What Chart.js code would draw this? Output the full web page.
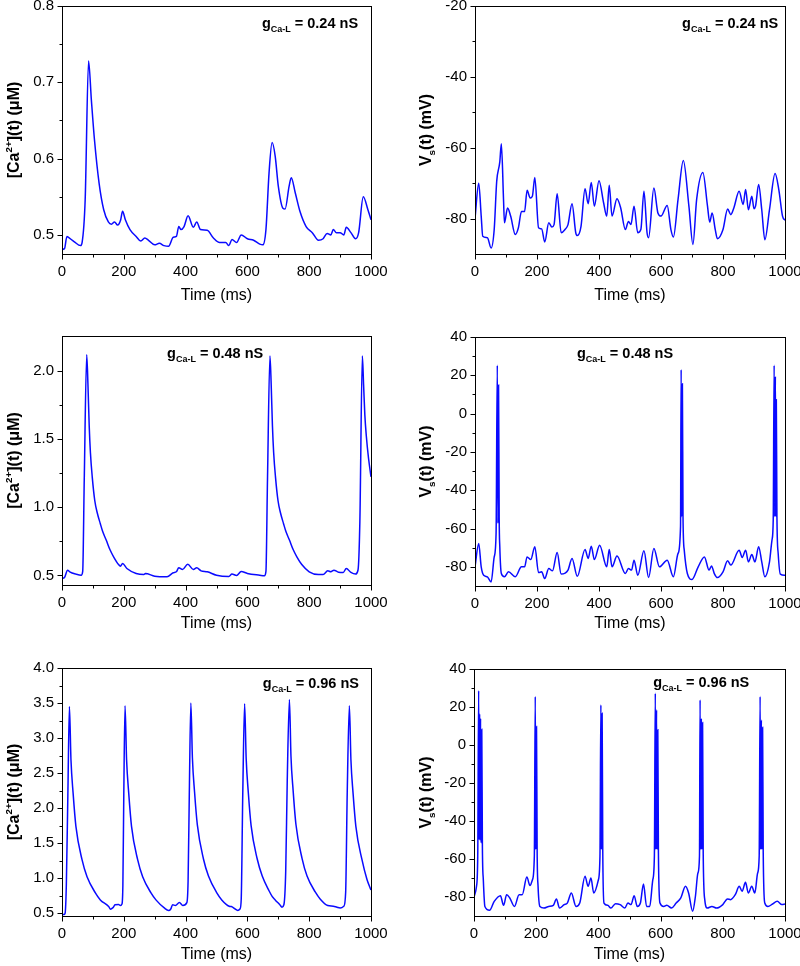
<!DOCTYPE html>
<html>
<head>
<meta charset="utf-8">
<title>Ca and Vs traces</title>
<script src="https://cdn.jsdelivr.net/npm/chart.js@4.4.0/dist/chart.umd.min.js"></script>
<style>
  body { margin: 0; background: #fff; width: 800px; height: 966px; position: relative; overflow: hidden; }
  canvas { position: absolute; }
</style>
</head>
<body>
<canvas id="p1"></canvas>
<canvas id="p2"></canvas>
<canvas id="p3"></canvas>
<canvas id="p4"></canvas>
<canvas id="p5"></canvas>
<canvas id="p6"></canvas>
<script>
// ---- data (time in ms, value) ----
const timeTicks = [0, 200, 400, 600, 800, 1000];
const timeMinor = [100, 300, 500, 700, 900];
const gValues = ['0.24', '0.48', '0.96'];

// [Ca2+](t), gCa-L = 0.24 nS
const caTrace024 = [[0,0.481],[8,0.482],[16,0.498],[20,0.497],[40,0.491],[60,0.486],[65,0.49],[75,0.546],[86,0.728],[95,0.677],
  [105,0.625],[120,0.568],[135,0.533],[150,0.517],[160,0.514],[170,0.517],[180,0.513],[190,0.52],[196,0.531],[205,0.52],
  [220,0.507],[240,0.498],[255,0.492],[268,0.496],[280,0.493],[300,0.487],[315,0.489],[330,0.486],[345,0.485],[360,0.497],
  [370,0.498],[378,0.511],[385,0.507],[395,0.511],[408,0.525],[425,0.51],[436,0.517],[448,0.507],[470,0.506],[490,0.496],
  [510,0.49],[530,0.49],[540,0.486],[550,0.494],[565,0.49],[580,0.5],[600,0.495],[620,0.493],[640,0.488],[650,0.487],
  [660,0.507],[670,0.581],[680,0.621],[690,0.603],[700,0.564],[715,0.535],[722,0.534],[735,0.564],[742,0.575],[755,0.555],
  [770,0.531],[790,0.511],[810,0.503],[830,0.493],[845,0.495],[858,0.502],[870,0.5],[878,0.507],[888,0.503],[900,0.503],
  [912,0.5],[920,0.51],[935,0.503],[950,0.495],[960,0.503],[975,0.55],[990,0.533],[1000,0.52]];

// Vs(t), gCa-L = 0.24 nS
const vTrace024 = [[0,-80],[12,-70],[20,-79.3],[25,-85],[40,-85.4],[52,-88.3],[62,-83],[70,-69.5],[80,-64],[85,-58.9],
  [92,-74.6],[95,-81.2],[105,-77],[115,-79.3],[130,-84.5],[140,-82.6],[150,-78],[160,-78],[168,-72],[178,-74.2],
  [185,-73.7],[193,-68.4],[205,-82.6],[215,-82.9],[225,-86.6],[238,-81.2],[248,-82.4],[255,-81.7],[265,-73],[278,-84],
  [290,-83.1],[300,-81.7],[313,-75.8],[325,-84],[330,-84.8],[342,-82.2],[355,-71.6],[365,-75.8],[375,-69.8],[385,-76.5],
  [400,-69.3],[415,-75.6],[425,-79.3],[433,-70.6],[442,-79.3],[458,-74.4],[470,-77],[485,-83.1],[495,-80.8],[503,-81.7],
  [513,-76.5],[525,-84],[535,-83.1],[545,-72.3],[555,-84],[560,-85.4],[577,-71.4],[590,-78.4],[600,-79.3],[620,-76.3],
  [632,-83.1],[640,-85.2],[655,-74.6],[672,-63.6],[690,-76.5],[703,-87.3],[715,-74.6],[735,-67],[750,-76.5],[757,-81],
  [765,-78.4],[775,-83.1],[782,-85.7],[800,-83.1],[815,-77.3],[825,-78.9],[835,-77],[852,-72.3],[865,-76],[873,-71.8],
  [882,-77.5],[893,-73.7],[900,-77.2],[905,-76.5],[915,-70.4],[925,-77.5],[935,-86],[950,-77.5],[968,-67.3],[980,-71.8],
  [992,-79.3],[1000,-80.5]];

// [Ca2+](t), gCa-L = 0.48 nS
const caTrace048 = [[0,0.478],[8,0.485],[18,0.539],[25,0.527],[45,0.51],[62,0.502],[67,0.53],[72,1.2],[80,2.12],[84,1.9],
  [88,1.6],[92,1.4],[98,1.22],[106,1.05],[114,0.96],[124,0.88],[132,0.82],[143,0.76],[155,0.69],[167,0.637],
  [183,0.58],[189,0.568],[196,0.588],[210,0.551],[240,0.515],
  [265,0.507],[270,0.515],[300,0.495],[340,0.49],[360,0.52],[370,0.527],[378,0.556],[390,0.544],[407,0.583],[425,0.544],
  [436,0.556],[450,0.534],[470,0.527],[500,0.502],[540,0.493],[550,0.51],[565,0.5],[580,0.529],[600,0.515],[640,0.502],
  [655,0.498],[660,0.53],[665,1.2],[673,2.11],[677,1.9],[681,1.6],[685,1.4],[691,1.22],[699,1.05],[707,0.96],
  [717,0.88],[725,0.82],[736,0.76],[748,0.69],[760,0.637],
  [776,0.58],[800,0.527],[830,0.507],[845,0.507],[860,0.534],[870,0.527],[880,0.539],[895,0.524],[910,0.522],[920,0.551],
  [935,0.522],[950,0.51],[958,0.54],[964,0.9],[972,2.11],[976,1.9],[980,1.68],[985,1.52],[992,1.36],[1000,1.224]];

// Vs(t), gCa-L = 0.48 nS
const vTrace048 = [[0,-80],[12,-67.8],[20,-80],[28,-84.4],[40,-85.2],[52,-87.9],[62,-74.8],[68,-62.6],[72,25.2],[74,-57.3],
  [76,15],[78,-53.8],[80,-69.5],[85,-83.5],[95,-85.2],[108,-82.6],[130,-85.2],[150,-80],[160,-80],[168,-74.8],
  [180,-76.2],[193,-69.5],[205,-83],[215,-82.6],[225,-86.1],[238,-80.9],[250,-82.1],[265,-72.5],[278,-83.8],[300,-81.7],
  [313,-75.6],[330,-84.9],[355,-70.9],[365,-75.6],[375,-69.2],[385,-76.2],[402,-68.7],[425,-80],[433,-70.9],[442,-80],
  [458,-74.4],[485,-83.5],[495,-80.9],[505,-81.7],[513,-76.5],[525,-84.4],[545,-71.6],[560,-85.6],[577,-70.4],[595,-80],
  [620,-76.5],[640,-85.2],[655,-73],[663,-59],[665,22.9],[667,-53.8],[669,15.6],[671,-53.8],[675,-71.3],[685,-83.5],
  [700,-86.6],[720,-80],[740,-74.8],[755,-81.7],[763,-79.5],[772,-83.5],[782,-85.6],[800,-82.6],[815,-76.8],[825,-79.1],
  [852,-71.3],[862,-75.1],[873,-71.3],[882,-77.4],[893,-73.6],[903,-77.4],[915,-69.5],[925,-77.4],[935,-85.2],[950,-77.4],
  [958,-66],[962,-55.6],[965,25.2],[967,-53.8],[969,19.4],[971,-53.8],[972,7.2],[974,-53.8],[978,-73],[985,-83.8],
  [1000,-84.4]];

// [Ca2+](t), gCa-L = 0.96 nS
const caTrace096 = [[0,0.48],[6,0.48],[10,0.5],[14,0.9],[19,2.2],[24,3.45],[29,2.69],[36,2.21],[45,1.74],[65,1.26],
  [81,1.02],[108,0.79],[124,0.69],[151,0.595],[157,0.557],[165,0.58],[172,0.62],[183,0.625],[189,0.61],[194,0.63],
  [197,0.9],[200,2.2],[204,3.46],[209,2.69],[216,2.21],[225,1.74],[245,1.26],[261,1.02],[288,0.79],[304,0.69],
  [331,0.575],[345,0.538],[352,0.56],[358,0.62],[367,0.61],[380,0.652],[391,0.61],[404,0.65],[408,0.95],[412,2.2],
  [417,3.5],[422,2.72],[429,2.23],[438,1.76],[458,1.27],[474,1.03],[501,0.79],[517,0.69],[541,0.6],[548,0.595],
  [569,0.54],[576,0.56],[580,0.7],[585,2.2],[591,3.49],[596,2.71],[603,2.22],[612,1.75],[632,1.27],[648,1.03],
  [670,0.82],[680,0.74],[690,0.69],[705,0.62],[712,0.586],[718,0.62],[724,1.1],[729,2.4],[736,3.55],[741,2.74],
  [748,2.25],[757,1.77],[777,1.28],[793,1.03],[820,0.8],[836,0.7],[860,0.61],[878,0.6],[890,0.585],[900,0.575],
  [912,0.6],[918,0.8],[923,2.2],[930,3.46],[935,2.69],[942,2.21],[951,1.74],[971,1.26],[987,0.98],[1000,0.83]];

// Vs(t), gCa-L = 0.96 nS
const vTrace096 = [[0,-80],[8,-74.4],[12,-58.6],[15,28.6],[17,-50],[18,16.3],[20,-50],[21,14],[23,-51.6],[25,8.3],
  [27,-53.4],[30,-71],[35,-85],[50,-87],[65,-82.3],[85,-79.3],[95,-84.4],[105,-78.8],[115,-80.5],[130,-85],
  [145,-78.8],[155,-78.8],[170,-69.5],[180,-74],[188,-70.9],[194,-58.6],[197,25.5],[199,-55],[201,9.7],[203,-55],
  [206,-74.4],[212,-85],[225,-85.8],[240,-85],[255,-84.4],[265,-81],[275,-85.8],[290,-84],[300,-83.2],[313,-77.9],
  [328,-85],[340,-83.2],[357,-69.1],[367,-74.4],[376,-70],[385,-77.9],[400,-70.9],[405,-58.6],[408,21.1],[410,-55],
  [412,16.7],[414,-55],[418,-83.2],[430,-84.4],[440,-85.8],[455,-83.5],[470,-84],[485,-85.8],[495,-83.2],[505,-84],
  [515,-79.3],[525,-85],[535,-83.2],[545,-73.2],[555,-85],[565,-85],[575,-70.9],[580,-58.6],[583,27.2],[585,-55],
  [587,18.5],[589,-55],[591,8],[593,-56.9],[598,-83.2],[610,-85],[620,-84.4],[635,-85.8],[650,-83.2],[665,-80.5],
  [680,-74.4],[690,-77.9],[703,-87.5],[712,-79.6],[720,-67.4],[725,-58.6],[727,23.7],[729,-55],[731,14],[733,-55],
  [735,11.8],[737,-56.9],[742,-81.4],[750,-85.8],[765,-85],[780,-85.8],[800,-84],[815,-81],[825,-81.4],[840,-78.8],
  [853,-74.4],[862,-77],[873,-72.3],[882,-77.9],[893,-74.4],[903,-77.9],[912,-67.4],[917,-58.6],[920,25.5],[922,-55],
  [924,13.2],[926,-55],[928,9.3],[930,-56.9],[935,-83.2],[945,-85],[960,-83.7],[975,-82.3],[990,-84],[1000,-83.7]];

// tick values
const caTicks024 = [0.5, 0.6, 0.7, 0.8];
const caMinor024 = [0.55, 0.65, 0.75];
const vTicks024 = [-80, -60, -40, -20];
const vMinor024 = [-70, -50, -30];
const caTicks048 = [0.5, 1.0, 1.5, 2.0];
const caMinor048 = [0.75, 1.25, 1.75];
const vTicksSpike = [-80, -60, -40, -20, 0, 20, 40];
const vMinorSpike = [-70, -50, -30, -10, 10, 30];
const caTicks096 = [0.5, 1.0, 1.5, 2.0, 2.5, 3.0, 3.5, 4.0];
const caMinor096 = [0.75, 1.25, 1.75, 2.25, 2.75, 3.25, 3.75];

// axis titles (text, kind) kind: '' normal, 'sup', 'sub'
const caTitle = [['[Ca', ''], ['2+', 'sup'], ['](t) (\u03bcM)', '']];
const vTitle = [['V', ''], ['s', 'sub'], ['(t) (mV)', '']];

const FONT = '"Liberation Sans", Arial, Helvetica, sans-serif';
const LINE = 'rgb(10,10,255)';

// ---- panels (layout) ----
const panels = [
  {id: 'p1', left: 0, top: 0, w: 400, h: 306, area: {l: 62, r: 371, t: 6, b: 254}, xTitleY: 296,
   pts: caTrace024, yMin: 0.475, yMax: 0.8, yMajor: caTicks024, yMinor: caMinor024, dec: 1,
   title: caTitle, titleX: 13, g: gValues[0], gAt: 647, gBelow: 17},
  {id: 'p2', left: 400, top: 0, w: 400, h: 306, area: {l: 75, r: 385, t: 6, b: 254}, xTitleY: 296,
   pts: vTrace024, yMin: -90, yMax: -20, yMajor: vTicks024, yMinor: vMinor024, dec: 0,
   title: vTitle, titleX: 25, g: gValues[0], gAt: 668, gBelow: 17},
  {id: 'p3', left: 0, top: 320, w: 400, h: 317, area: {l: 62, r: 371, t: 16, b: 265}, xTitleY: 304,
   pts: caTrace048, yMin: 0.43, yMax: 2.257, yMajor: caTicks048, yMinor: caMinor048, dec: 1,
   title: caTitle, titleX: 13, g: gValues[1], gAt: 340, gBelow: 17},
  {id: 'p4', left: 400, top: 320, w: 400, h: 317, area: {l: 75, r: 385, t: 17, b: 266}, xTitleY: 304,
   pts: vTrace048, yMin: -90, yMax: 40, yMajor: vTicksSpike, yMinor: vMinorSpike, dec: 0,
   title: vTitle, titleX: 25, g: gValues[1], gAt: 329, gBelow: 16},
  {id: 'p5', left: 0, top: 640, w: 400, h: 326, area: {l: 62, r: 371, t: 28, b: 276}, xTitleY: 315,
   pts: caTrace096, yMin: 0.46, yMax: 4.0, yMajor: caTicks096, yMinor: caMinor096, dec: 1,
   title: caTitle, titleX: 13, g: gValues[2], gAt: 650, gBelow: 15},
  {id: 'p6', left: 400, top: 640, w: 400, h: 326, area: {l: 74, r: 385, t: 29, b: 276}, xTitleY: 315,
   pts: vTrace096, yMin: -90, yMax: 40, yMajor: vTicksSpike, yMinor: vMinorSpike, dec: 0,
   title: vTitle, titleX: 25, g: gValues[2], gAt: 576, gBelow: 13}
];

// draws text with super/subscripts, starting at x (or centred on x)
function drawRich(ctx, parts, size, x, y, center) {
  const segs = parts.map(([text, kind]) => {
    const s = kind ? size * 0.62 : size;
    ctx.font = 'bold ' + s + 'px ' + FONT;
    return {text, kind, s, w: ctx.measureText(text).width};
  });
  const total = segs.reduce((a, g) => a + g.w, 0);
  let cx = center ? x - total / 2 : x;
  ctx.textAlign = 'left';
  ctx.textBaseline = 'alphabetic';
  ctx.fillStyle = '#000';
  segs.forEach(g => {
    ctx.font = 'bold ' + g.s + 'px ' + FONT;
    const dy = g.kind === 'sup' ? -size * 0.4 : (g.kind === 'sub' ? size * 0.24 : 0);
    ctx.fillText(g.text, cx, y + dy);
    cx += g.w;
  });
}

// frame, major/minor ticks, y title and the g label
function makeFrame(p) {
  return {
    id: 'frame_' + p.id,
    afterDraw(chart) {
      const {ctx, chartArea: a, scales: {x, y}} = chart;
      ctx.save();
      ctx.strokeStyle = '#000';
      ctx.lineWidth = 1;
      const L = Math.round(a.left) + 0.5, R = Math.round(a.right) + 0.5;
      const T = Math.round(a.top) + 0.5, B = Math.round(a.bottom) + 0.5;
      ctx.strokeRect(L, T, R - L, B - T);
      ctx.beginPath();
      timeTicks.forEach(v => { const px = Math.round(x.getPixelForValue(v)) + 0.5; ctx.moveTo(px, B); ctx.lineTo(px, B + 5); });
      timeMinor.forEach(v => { const px = Math.round(x.getPixelForValue(v)) + 0.5; ctx.moveTo(px, B); ctx.lineTo(px, B + 3); });
      p.yMajor.forEach(v => { const py = Math.round(y.getPixelForValue(v)) + 0.5; ctx.moveTo(L, py); ctx.lineTo(L - 5, py); });
      p.yMinor.forEach(v => { const py = Math.round(y.getPixelForValue(v)) + 0.5; ctx.moveTo(L, py); ctx.lineTo(L - 3, py); });
      ctx.stroke();

      // y title, rotated
      ctx.save();
      ctx.translate(p.titleX, (a.top + a.bottom) / 2);
      ctx.rotate(-Math.PI / 2);
      drawRich(ctx, p.title, 16, 0, 16 * 0.36, true);
      ctx.restore();

      // g label
      const gParts = [['g', ''], ['Ca-L', 'sub'], [' = ' + p.g + ' nS', '']];
      drawRich(ctx, gParts, 14.5, x.getPixelForValue(p.gAt), a.top + p.gBelow + 14.5 * 0.36, false);
      ctx.restore();
    }
  };
}

panels.forEach(p => {
  const cv = document.getElementById(p.id);
  cv.width = p.w;
  cv.height = p.h;
  cv.style.left = p.left + 'px';
  cv.style.top = p.top + 'px';
  const xAxisH = p.h - p.area.b;
  const titlePadBottom = (p.h - p.xTitleY) - 9.6;

  new Chart(cv, {
    type: 'line',
    data: {
      datasets: [{
        data: p.pts.map(([t, v]) => ({x: t, y: v})),
        borderColor: LINE,
        borderWidth: 1.5,
        pointRadius: 0,
        fill: false,
        cubicInterpolationMode: 'monotone'
      }]
    },
    options: {
      responsive: false,
      animation: false,
      layout: {padding: {top: p.area.t, right: p.w - p.area.r, left: 0, bottom: 0}},
      plugins: {legend: {display: false}, tooltip: {enabled: false}},
      scales: {
        x: {
          type: 'linear', min: 0, max: 1000,
          grid: {display: false, drawTicks: false, tickLength: 0},
          border: {display: false},
          afterBuildTicks: s => { s.ticks = timeTicks.map(v => ({value: v})); },
          afterFit: s => { s.height = xAxisH; s.paddingLeft = 0; s.paddingRight = 0; },
          ticks: {padding: 9, autoSkip: false, maxRotation: 0, color: '#000', font: {size: 15, family: FONT},
                  callback: v => String(v)},
          title: {display: true, text: 'Time (ms)', color: '#000', font: {size: 16, family: FONT},
                  padding: {top: 0, bottom: titlePadBottom}}
        },
        y: {
          type: 'linear', min: p.yMin, max: p.yMax,
          grid: {display: false, drawTicks: false, tickLength: 0},
          border: {display: false},
          afterBuildTicks: s => { s.ticks = p.yMajor.map(v => ({value: v})); },
          afterFit: s => { s.width = p.area.l; s.paddingTop = 0; s.paddingBottom = 0; },
          ticks: {padding: 8, autoSkip: false, color: '#000', font: {size: 15, family: FONT},
                  callback: v => Number(v).toFixed(p.dec)}
        }
      }
    },
    plugins: [makeFrame(p)]
  });
});
</script>
</body>
</html>
